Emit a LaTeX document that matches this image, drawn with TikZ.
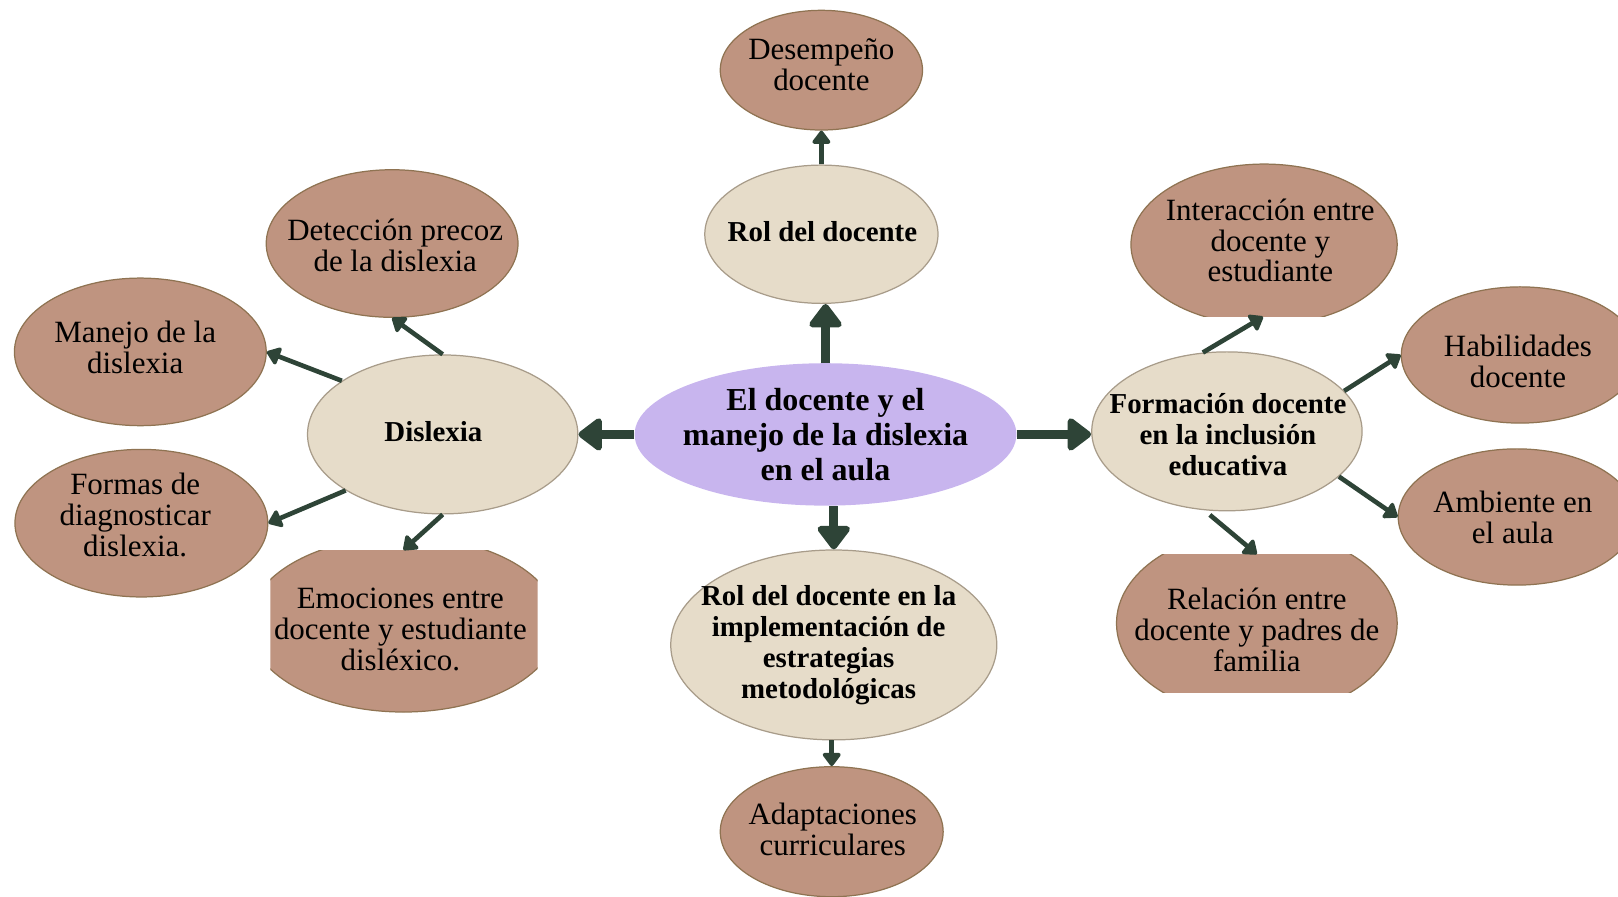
\documentclass[tikz,border=0pt]{standalone}
\usepackage{fontspec}
\setmainfont{Liberation Serif}
\usetikzlibrary{arrows.meta,shapes.geometric}
\definecolor{leafc}{HTML}{BF9480}
\definecolor{leafb}{HTML}{8F7352}
\definecolor{midc}{HTML}{E6DCC9}
\definecolor{midb}{HTML}{A89C8A}
\definecolor{corec}{HTML}{C8B5EE}
\definecolor{arr}{HTML}{2E4437}
\begin{document}
\begin{tikzpicture}[x=1pt,y=-1pt,
  ell/.style={ellipse, inner sep=0pt},
  leaf/.style={ell, fill=leafc, draw=leafb, line width=1.2pt},
  mid/.style={ell, fill=midc, draw=midb, line width=1.2pt},
  core/.style={ell, fill=corec},
  lt/.style={align=center, font=\fontsize{30}{30}\selectfont, inner sep=0pt},
  bt/.style={align=center, font=\bfseries\fontsize{28}{30}\selectfont, inner sep=0pt},
  ct/.style={align=center, font=\bfseries\fontsize{31}{34}\selectfont, inner sep=0pt},
  big/.style={draw=arr, line width=9pt, -{Triangle[width=36pt,length=25pt,round]}},
  small/.style={draw=arr, line width=4.5pt, -{Triangle[width=20pt,length=14pt,round]}},
]
\useasboundingbox (0,0) rectangle (1568,869);
\clip (0,0) rectangle (1568,869);

% central
\node[core, minimum width=370pt, minimum height=138pt] (cen) at (800,421) {};
\node[ct] (cent) at (800,421) {El docente y el\\manejo de la dislexia\\en el aula};

% middle level
\node[mid, minimum width=226pt, minimum height=134pt] (rol) at (796,227) {};
\node[bt] (rolt) at (797,224) {Rol del docente};
\node[mid, minimum width=262pt, minimum height=154pt] (dis) at (429,421) {};
\node[bt] (dist) at (420,418) {Dislexia};
\node[mid, minimum width=316pt, minimum height=184pt] (str) at (808,625) {};
\node[bt] (strt) at (803,625) {Rol del docente en la\\implementación de\\estrategias\\metodológicas};
\node[mid, minimum width=262pt, minimum height=154pt] (for) at (1189,418) {};
\node[bt] (fort) at (1190,421) {Formación docente\\en la inclusión\\educativa};

% leaves
\node[leaf, minimum width=196pt, minimum height=116pt] (des) at (796,68) {};
\node[lt] (dest) at (796,63) {Desempeño\\docente};
\node[leaf, minimum width=244pt, minimum height=143pt] (det) at (380,236) {};
\node[lt] (dett) at (383,238) {Detección precoz\\de la dislexia};
\node[leaf, minimum width=244pt, minimum height=143pt] (man) at (136,341) {};
\node[lt] (mant) at (131,337) {Manejo de la\\dislexia};
\node[leaf, minimum width=245pt, minimum height=143pt] (frm) at (137,507) {};
\node[lt] (frmt) at (131,499) {Formas de\\diagnosticar\\dislexia.};
\begin{scope}
  \clip (262,533) rectangle (521,700);
  \node[leaf, minimum width=300pt, minimum height=170pt] (emo) at (391,605) {};
\end{scope}
\node[lt] (emot) at (388,610) {Emociones entre\\docente y estudiante\\disléxico.};
\node[leaf, minimum width=216pt, minimum height=126pt] (ada) at (806,806) {};
\node[lt] (adat) at (807,804) {Adaptaciones\\curriculares};
\begin{scope}
  \clip (1080,150) rectangle (1360,307);
  \node[leaf, minimum width=258pt, minimum height=156pt] (int) at (1225,237) {};
\end{scope}
\node[lt] (intt) at (1231,233) {Interacción entre\\docente y\\estudiante};
\node[leaf, minimum width=230pt, minimum height=132pt] (hab) at (1473,344) {};
\node[lt] (habt) at (1471,350) {Habilidades\\docente};
\node[leaf, minimum width=230pt, minimum height=132pt] (amb) at (1470,501) {};
\node[lt] (ambt) at (1466,501) {Ambiente en\\el aula};
\begin{scope}
  \clip (1070,537) rectangle (1370,671);
  \node[leaf, minimum width=272pt, minimum height=180pt] (rel) at (1218,604) {};
\end{scope}
\node[lt] (relt) at (1218,610) {Relación entre\\docente y padres de\\familia};

\coordinate (emotop) at (391,533);
\coordinate (intbot) at (1224,307);
\coordinate (reltop) at (1218,537);

% arrows
\draw[big] (cen.north) -- (cen.north |- rol.south);
\draw[big] (cen.west) -- (dis.east);
\draw[big] (str.north |- cen.south) -- (str.north);
\draw[big] (cen.east) -- (cen.east -| for.west);
\draw[small] (rol.north) -- (des.south);
\draw[small] (ada.north |- str.south) -- (ada.north);
\draw[small] (dis.north) -- (det.south);
\draw[small] (dis.152) -- (man.east);
\draw[small] (dis.210) -- (frm.east);
\draw[small] (dis.south) -- (emotop);
\draw[small] (for.107) -- (intbot);
\draw[small] (for.19) -- (hab.west);
\draw[small] (for.-22) -- (amb.west);
\draw[small, shorten <=7pt] (for.-106) -- (reltop);
\end{tikzpicture}
\end{document}
